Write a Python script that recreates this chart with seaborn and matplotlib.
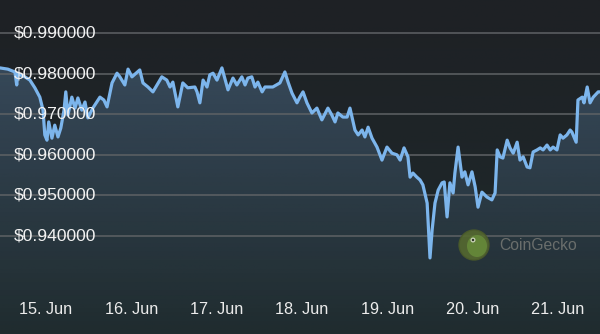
import numpy as np
import pandas as pd
import matplotlib
matplotlib.use("Agg")
import matplotlib.pyplot as plt
import matplotlib.dates as mdates
import matplotlib.transforms as mtransforms
from matplotlib.patches import Ellipse
import seaborn as sns

# Hours after 15 Jun 00:00 and the USD price at each sample
hours = [-12.9, -10.7, -9.3, -8.7, -8.2, -7.9, -7.3, -5.9, -4.5, -3.1, -1.7, -0.8, -0.3,
         0.3, 0.8, 1.7, 2.5, 3.4, 4.2, 5.1, 5.6, 6.2, 7.3, 8.2, 9.0, 10.1, 11.0, 11.8,
         13.2, 15.2, 16.3, 17.2, 18.6, 20.0, 20.8, 22.2, 23.1, 24.2, 26.4, 27.3, 28.7,
         30.1, 32.6, 34.0, 34.9, 35.7, 37.1, 38.5, 39.9, 41.9, 42.5, 43.3, 44.2, 45.3,
         46.1, 47.0, 48.1, 49.5, 50.3, 51.2, 52.6, 53.7, 55.1, 56.0, 56.8, 57.9, 58.8,
         59.6, 60.8, 61.6, 63.8, 65.8, 67.2, 68.1, 69.2, 70.6, 71.4, 72.3, 73.4, 74.8,
         76.2, 77.6, 79.3, 80.4, 81.3, 82.1, 83.5, 84.7, 85.5, 86.9, 87.8, 88.9, 89.7,
         90.6, 91.7, 93.1, 94.5, 95.9, 97.3, 98.7, 99.6, 100.7, 101.8, 102.4, 103.2,
         104.3, 105.2, 106.0, 107.2, 108.0, 108.6, 109.4, 110.3, 111.4, 112.0, 112.8,
         113.6, 114.5, 115.0, 115.9, 117.0, 117.8, 118.7, 119.8, 120.7, 121.5, 122.6,
         124.0, 125.4, 126.3, 126.9, 127.7, 128.5, 129.7, 130.5, 131.4, 132.5, 133.3,
         134.2, 135.3, 136.1, 137.0, 138.1, 139.0, 139.8, 140.9, 141.8, 142.6, 143.7,
         144.6, 145.4, 146.5, 147.4, 147.9, 149.1, 149.6, 150.8, 151.3, 152.2, 153.0,
         153.9, 155.3, 155.8]

prices = [0.9814, 0.9811, 0.9806, 0.9804, 0.9772, 0.9801, 0.9797, 0.9792, 0.9784, 0.9765,
          0.9742, 0.9710, 0.9649, 0.9636, 0.9681, 0.9641, 0.9673, 0.9644, 0.9666, 0.9710,
          0.9755, 0.9698, 0.9742, 0.9715, 0.9740, 0.9710, 0.9730, 0.9691, 0.9715, 0.9742,
          0.9735, 0.9718, 0.9777, 0.9801, 0.9792, 0.9772, 0.9811, 0.9792, 0.9809, 0.9777,
          0.9767, 0.9755, 0.9792, 0.9784, 0.9767, 0.9779, 0.9718, 0.9777, 0.9765, 0.9767,
          0.9755, 0.9728, 0.9784, 0.9767, 0.9797, 0.9801, 0.9784, 0.9814, 0.9789, 0.9760,
          0.9789, 0.9772, 0.9792, 0.9772, 0.9789, 0.9792, 0.9767, 0.9779, 0.9755, 0.9767,
          0.9767, 0.9777, 0.9804, 0.9779, 0.9752, 0.9728, 0.9742, 0.9755, 0.9728, 0.9703,
          0.9715, 0.9686, 0.9715, 0.9698, 0.9681, 0.9703, 0.9693, 0.9693, 0.9715, 0.9661,
          0.9649, 0.9661, 0.9644, 0.9668, 0.9641, 0.9619, 0.9587, 0.9619, 0.9604, 0.9600,
          0.9587, 0.9617, 0.9595, 0.9545, 0.9555, 0.9545, 0.9538, 0.9526, 0.9481, 0.9346,
          0.9415, 0.9481, 0.9513, 0.9531, 0.9533, 0.9447, 0.9531, 0.9506, 0.9555, 0.9619,
          0.9545, 0.9558, 0.9526, 0.9558, 0.9521, 0.9471, 0.9508, 0.9496, 0.9489, 0.9506,
          0.9612, 0.9595, 0.9592, 0.9636, 0.9617, 0.9604, 0.9631, 0.9587, 0.9595, 0.9570,
          0.9568, 0.9607, 0.9612, 0.9617, 0.9612, 0.9624, 0.9612, 0.9619, 0.9612, 0.9649,
          0.9641, 0.9649, 0.9661, 0.9656, 0.9631, 0.9735, 0.9742, 0.9728, 0.9767, 0.9728,
          0.9742, 0.9755, 0.9755]

y_ticks = [0.99, 0.98, 0.97, 0.96, 0.95, 0.94]
x_tick_days = ["2023-06-15", "2023-06-16", "2023-06-17", "2023-06-18",
               "2023-06-19", "2023-06-20", "2023-06-21"]
x_tick_labels = ["15. Jun", "16. Jun", "17. Jun", "18. Jun", "19. Jun", "20. Jun", "21. Jun"]

origin = pd.Timestamp("2023-06-15 00:00")
df = pd.DataFrame({
    "time": origin + pd.to_timedelta(hours, unit="h"),
    "price": prices,
})

sns.set_theme(style="dark")
plt.rcParams["font.family"] = ["Liberation Sans", "DejaVu Sans"]

fig = plt.figure(figsize=(6.0, 3.34), dpi=100)
ax = fig.add_axes([0, 0, 1, 1])

x0 = mdates.date2num(df["time"].iloc[0])
x1 = mdates.date2num(df["time"].iloc[-1])
y_lo, y_hi = 0.915862, 0.998128
ax.set_xlim(x0, x1)
ax.set_ylim(y_lo, y_hi)

# Dark vertical background gradient
top_c = np.array([30, 33, 37]) / 255
bot_c = np.array([30, 42, 44]) / 255
t = np.linspace(0, 1, 256)[:, None]
bg = top_c[None, :] * (1 - t[..., None]) + bot_c[None, :] * t[..., None]
bg = np.repeat(bg, 2, axis=1)
ax.imshow(bg, extent=[x0, x1, y_lo, y_hi], aspect="auto", origin="upper", zorder=0)

# Gradient area under the price line
line_rgb = np.array([124, 181, 236]) / 255
alpha = np.linspace(0.26, 0.02, 256)
fill = np.zeros((256, 2, 4))
fill[..., :3] = line_rgb
fill[..., 3] = alpha[:, None]
poly = ax.fill_between(mdates.date2num(df["time"]), df["price"], y_lo,
                       color="none", linewidth=0)
area = ax.imshow(fill, extent=[x0, x1, y_lo, 0.9815], aspect="auto",
                 origin="upper", zorder=1)
area.set_clip_path(poly.get_paths()[0], transform=ax.transData)

# Horizontal grid lines
for v in y_ticks:
    ax.axhline(v, color="#5e6265", linewidth=1.1, zorder=2)

sns.lineplot(data=df, x="time", y="price", ax=ax, color="#7cb5ec",
             linewidth=2.3, zorder=3, solid_joinstyle="round", solid_capstyle="round")

ax.set_xlim(x0, x1)
ax.set_ylim(y_lo, y_hi)
ax.set_xlabel("")
ax.set_ylabel("")
ax.set_xticks([])
ax.set_yticks([])
for s in ax.spines.values():
    s.set_visible(False)

# Price labels inside the plot on the left
ytrans = mtransforms.blended_transform_factory(ax.transAxes, ax.transData)
for v in y_ticks:
    ax.text(14 / 600, v, f"${v:.6f}", transform=ytrans, ha="left", va="center",
            color="#f2f2f2", fontsize=12.6, zorder=5)

# Day labels along the bottom
xtrans = mtransforms.blended_transform_factory(ax.transData, ax.transAxes)
for d, lab in zip(x_tick_days, x_tick_labels):
    ax.text(mdates.date2num(pd.Timestamp(d)), 1 - 309 / 334, lab, transform=xtrans,
            ha="center", va="center", color="#ececec", fontsize=11.7, zorder=5)

# Watermark
cx, cy = 474 / 600, 1 - 245 / 334
ax.add_patch(Ellipse((cx, cy), 30 / 600, 30 / 334, transform=ax.transAxes,
                     facecolor="#55692f", edgecolor="#4a5a2a", linewidth=1.0,
                     alpha=0.9, zorder=4))
ax.add_patch(Ellipse((cx + 3 / 600, cy - 1 / 334), 20 / 600, 22 / 334,
                     transform=ax.transAxes, facecolor="#66893a", edgecolor="none",
                     alpha=0.9, zorder=4))
ax.add_patch(Ellipse((cx - 1 / 600, cy + 5 / 334), 5 / 600, 5 / 334,
                     transform=ax.transAxes, facecolor="#c9d3b8", edgecolor="none",
                     zorder=4))
ax.add_patch(Ellipse((cx - 1 / 600, cy + 5 / 334), 2.4 / 600, 2.4 / 334,
                     transform=ax.transAxes, facecolor="#2a2f22", edgecolor="none",
                     zorder=4))
ax.text(499 / 600, cy, "CoinGecko", transform=ax.transAxes, ha="left", va="center",
        color="#6a6e6c", fontsize=11.3, zorder=4)

fig.savefig("out.png", dpi=100)
